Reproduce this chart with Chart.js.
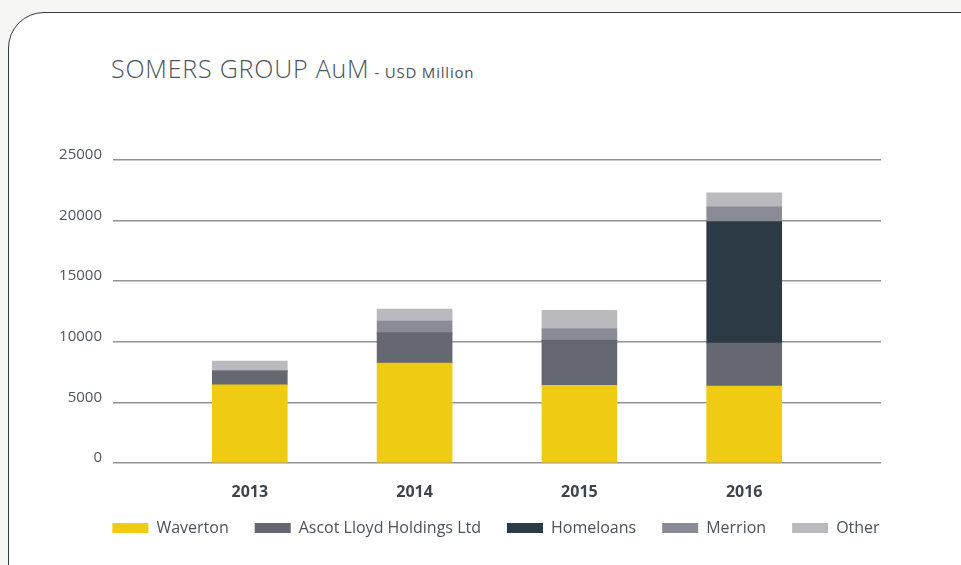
<!DOCTYPE html>
<html>
<head>
<meta charset="utf-8">
<script src="https://cdn.jsdelivr.net/npm/chart.js@4"></script>
<style>
  html, body { margin: 0; padding: 0; }
  body { width: 961px; height: 565px; background: #f6f6f5; overflow: hidden; position: relative; font-family: "Open Sans", sans-serif; }
  .card { position: absolute; left: 8px; top: 12px; width: 1000px; height: 600px; background: #fff;
          border: 1.5px solid #2c3a46; border-top-left-radius: 36px; }
  .title { position: absolute; left: 111px; top: 51px; color: #4b535c; white-space: nowrap; }
  .title .main { font-size: 25px; font-weight: 300; letter-spacing: 0.8px; }
  .title .sub { font-size: 15px; font-weight: 500; letter-spacing: 0.8px; margin-left: 5px; }
  .wrap { position: absolute; left: 0; top: 0; width: 961px; height: 565px; }
</style>
</head>
<body>
<div class="card"></div>
<div class="title"><span class="main">SOMERS GROUP AuM</span><span class="sub">- USD Million</span></div>
<div class="wrap"><canvas id="chart"></canvas></div>
<script>
// Valores (USD milhões)
const years = ["2013", "2014", "2015", "2016"];
const waverton = [6440, 8240, 6400, 6340];
const ascotLloyd = [1140, 2480, 3700, 3550];
const homeloans = [0, 0, 0, 10030];
const merrion = [0, 990, 1000, 1210];
const other = [820, 990, 1500, 1160];
const yTicks = [0, 5000, 10000, 15000, 20000, 25000];

const series = [
  { label: "Waverton", values: waverton, color: "#efcc13" },
  { label: "Ascot Lloyd Holdings Ltd", values: ascotLloyd, color: "#656871" },
  { label: "Homeloans", values: homeloans, color: "#2c3a46" },
  { label: "Merrion", values: merrion, color: "#898c95" },
  { label: "Other", values: other, color: "#b9b9be" },
];

Chart.defaults.font.family = '"Open Sans", sans-serif';

// Sobe a legenda alguns pixels (o eixo x precisa de altura para os rótulos)
const legendShift = {
  id: "legendShift",
  afterLayout(chart) {
    chart.legend.top -= 7;
    chart.legend.bottom -= 7;
  },
};

new Chart(document.getElementById("chart"), {
  type: "bar",
  data: {
    datasets: series.map((s) => ({
      label: s.label,
      data: s.values.map((v, i) => ({ x: i, y: v })),
      backgroundColor: s.color,
      borderWidth: 0,
      barThickness: 75,
    })),
  },
  options: {
    responsive: true,
    maintainAspectRatio: false,
    animation: false,
    layout: { padding: { top: 160, left: 50, right: 19, bottom: 12 } },
    plugins: {
      tooltip: { enabled: false },
      legend: {
        position: "bottom",
        labels: {
          boxWidth: 36,
          boxHeight: 10,
          padding: 26,
          color: "#4a525c",
          font: { size: 16 },
        },
      },
    },
    scales: {
      x: {
        type: "linear",
        stacked: true,
        offset: false,
        min: -0.83,
        max: 3.83,
        grid: { display: false },
        border: { display: false },
        afterBuildTicks: (s) => {
          s.ticks = years.map((_, i) => ({ value: i }));
        },
        afterFit: (s) => {
          s.height = 38;
        },
        ticks: {
          padding: 12,
          color: "#3c444e",
          font: { size: 16, weight: "bold" },
          callback: (v) => years[v] ?? "",
        },
      },
      y: {
        stacked: true,
        min: 0,
        max: 25000,
        afterBuildTicks: (s) => {
          s.ticks = yTicks.map((v) => ({ value: v }));
        },
        afterFit: (s) => {
          s.width = 63;
        },
        grid: { color: "#919399", lineWidth: 1.6, drawTicks: false },
        border: { display: false },
        ticks: {
          padding: 11,
          labelOffset: -5,
          color: "#4f5560",
          font: { size: 15 },
          callback: (v) => String(v),
        },
      },
      // eixo vazio à direita, só para reservar espaço
      yRight: {
        position: "right",
        grid: { display: false },
        border: { display: false },
        ticks: { display: false },
        afterFit: (s) => {
          s.width = 61;
        },
      },
    },
  },
  plugins: [legendShift],
});
</script>
</body>
</html>
